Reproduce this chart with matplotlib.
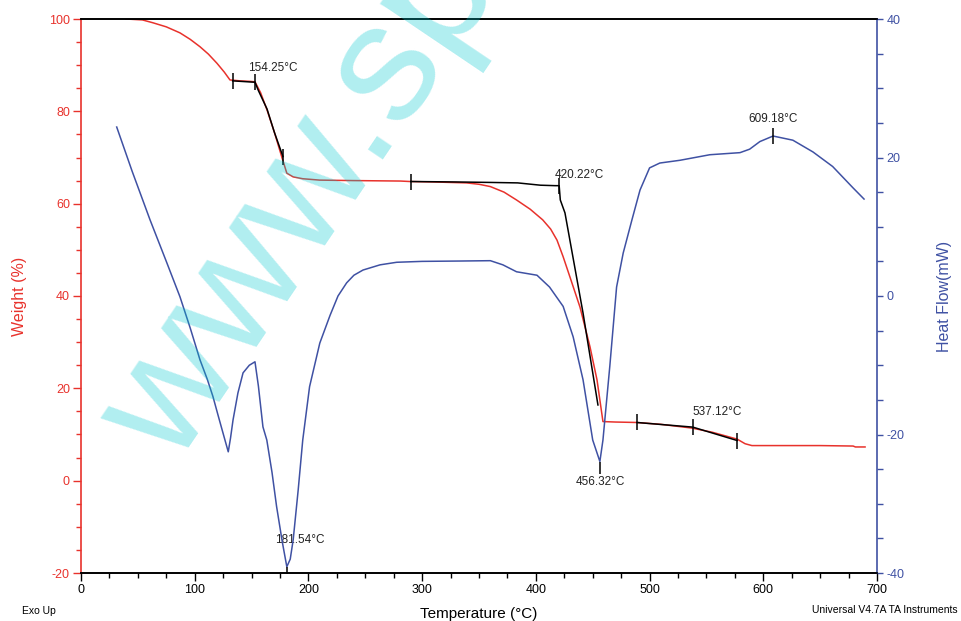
import matplotlib
matplotlib.use("Agg")
import matplotlib.pyplot as plt
from matplotlib.ticker import MultipleLocator

plt.rcParams["font.family"] = ["Liberation Sans", "DejaVu Sans"]
plt.rcParams["axes.unicode_minus"] = False

RED = "#e8322c"
BLUE = "#3f51a3"

# TGA weight curve (% vs degC)
weight_temp = [39.6, 54, 63, 75, 87, 96, 104.6, 112, 119.6, 126, 131, 140, 148,
               153, 158, 163.6, 170, 176.7, 181, 186.6, 195, 210, 240, 281, 289,
               310, 339, 350, 360, 372, 383, 395, 406, 413, 418.6, 424, 430,
               438.8, 447.6, 453.8, 459, 470, 489, 510, 537, 555, 577, 584, 590,
               620, 650, 679, 681, 689.5]
weight_pct = [100, 99.8, 99.2, 98.3, 97, 95.6, 94, 92.4, 90.4, 88.5, 86.8, 86.6,
              86.5, 86.4, 84, 80.3, 75.5, 70, 66.6, 65.8, 65.4, 65.1, 65, 64.9,
              64.8, 64.7, 64.5, 64.2, 63.7, 62.5, 60.8, 58.8, 56.5, 54.5, 52.1,
              48.5, 44.1, 37.6, 29, 21.8, 12.8, 12.7, 12.6, 12.2, 11.4, 10.5, 9.0,
              8.0, 7.6, 7.6, 7.6, 7.5, 7.3, 7.3]

# DSC heat flow curve (mW vs degC)
hf_temp = [31.4, 45, 60.7, 75, 87, 96, 104.6, 111, 116, 121, 126.6, 129.5, 131.5,
           133.7, 138, 142.5, 148, 153, 156, 160, 163.4, 168, 172, 177, 181, 184,
           186.6, 191, 195, 201, 210, 219, 226, 233.6, 240, 248, 263, 277.6, 300,
           333, 360, 371, 383, 401, 412, 424, 432.8, 441.5, 450, 456.3, 459, 465,
           471, 476.8, 484.5, 491.6, 500, 509, 526.8, 553, 579.5, 588, 597, 608.6,
           626, 643.7, 661, 679, 688.6]
hf_mw = [24.4, 18, 11, 5, -0.1, -4.6, -9.2, -12, -14.5, -17.5, -20.8, -22.5, -20.5,
         -17.9, -14, -11.1, -10, -9.5, -13, -18.9, -20.8, -25.5, -30.4, -35.5,
         -39.1, -38, -35.2, -28, -20.8, -13.1, -6.8, -2.8, 0, 1.9, 3, 3.75, 4.5,
         4.87, 5.0, 5.05, 5.1, 4.5, 3.5, 3.0, 1.3, -1.5, -5.9, -12.1, -20.8, -23.9,
         -20.8, -10.2, 1.3, 6.2, 11, 15.3, 18.5, 19.2, 19.6, 20.4, 20.7, 21.2,
         22.3, 23.1, 22.5, 20.8, 18.7, 15.6, 14]

# step analysis construction lines (weight axis)
step1_temp = [133.4, 153, 156, 163.6, 170, 177.6]
step1_wt = [86.6, 86.3, 84.5, 80.5, 75.5, 70.2]
step1_ticks = [133.4, 153, 177.6]

step2_temp = [290, 330, 360, 384, 404, 417, 420.5, 421.5, 425.6, 441.5, 454.6]
step2_wt = [64.8, 64.7, 64.6, 64.5, 64.0, 63.9, 63.9, 60.8, 58.0, 36.3, 16.4]
step2_ticks = [290, 420.5]

step3_temp = [489, 538, 577]
step3_wt = [12.6, 11.6, 8.7]

# labelled points: (text, temp, weight-axis y, ha)
annotations = [
    ("154.25°C", 146.9, 89.4, "left"),
    ("420.22°C", 416.8, 66.2, "left"),
    ("609.18°C", 608.6, 78.3, "center"),
    ("181.54°C", 170.6, -12.8, "left"),
    ("456.32°C", 457.0, -0.3, "center"),
    ("537.12°C", 537.3, 14.9, "left"),
]
peak_temp = [181.5, 456.3]
peak_mw = [-39.1, -23.9]
top_temp = [608.6]
top_mw = [23.1]

fig = plt.figure(figsize=(9.61, 6.21), dpi=100)
ax = fig.add_axes([81 / 961, 1 - 573 / 621, 796 / 961, 554 / 621])
ax2 = ax.twinx()

ax.plot(weight_temp, weight_pct, color=RED, lw=1.1, zorder=2)
ax.plot(step1_temp, step1_wt, color="black", lw=1.1, zorder=3)
ax.plot(step2_temp, step2_wt, color="black", lw=1.1, zorder=3)
ax.plot(step3_temp, step3_wt, color="black", lw=1.1, zorder=3)

for temps, xs, ys in [(step1_ticks, step1_temp, step1_wt),
                      (step2_ticks, step2_temp, step2_wt),
                      (step3_temp, step3_temp, step3_wt)]:
    for t in temps:
        y = ys[xs.index(t)]
        ax.plot([t], [y], marker="|", ms=11, mew=1.1, color="black", zorder=4)

ax2.plot(hf_temp, hf_mw, color=BLUE, lw=1.1, zorder=2)
ax2.plot(peak_temp, [m - 0.9 for m in peak_mw], ls="none", marker="|", ms=8,
         mew=1.1, color="black")
ax2.plot(top_temp, top_mw, ls="none", marker="|", ms=11, mew=1.1, color="black")

for text, t, y, ha in annotations:
    ax.text(t, y, text, ha=ha, va="center", fontsize=8.5, color="#222222",
            zorder=5)

ax.set_xlim(0, 700)
ax.set_ylim(-20, 100)
ax2.set_ylim(-40, 40)

ax.xaxis.set_major_locator(MultipleLocator(100))
ax.xaxis.set_minor_locator(MultipleLocator(25))
ax.yaxis.set_major_locator(MultipleLocator(20))
ax.yaxis.set_minor_locator(MultipleLocator(5))
ax2.yaxis.set_major_locator(MultipleLocator(20))
ax2.yaxis.set_minor_locator(MultipleLocator(5))

ax.tick_params(axis="x", which="major", length=6, width=1, labelsize=9, pad=2)
ax.tick_params(axis="x", which="minor", length=3.5, width=1)
ax.tick_params(axis="y", which="major", length=6, width=1, color=RED,
               labelcolor=RED, labelsize=9, pad=2)
ax.tick_params(axis="y", which="minor", length=3.5, width=1, color=RED)
ax2.tick_params(axis="y", which="both", length=4, width=1, color=BLUE,
                labelcolor=BLUE, labelsize=9, pad=3)

ax.spines["left"].set_color(RED)
ax.spines["right"].set_visible(False)
ax2.spines["left"].set_visible(False)
ax2.spines["right"].set_color(BLUE)
for a in (ax, ax2):
    for s in a.spines.values():
        s.set_linewidth(1.2)

ax.set_xlabel("Temperature (°C)", fontsize=11, labelpad=8)
ax.set_ylabel("Weight (%)", fontsize=11.5, color=RED, labelpad=16)
ax2.set_ylabel("Heat Flow(mW)", fontsize=11.5, color=BLUE, labelpad=23)

fig.text(22 / 961, 1 - 611 / 621, "Exo Up", fontsize=7.5, va="center")
fig.text(958 / 961, 1 - 610 / 621, "Universal V4.7A TA Instruments",
         fontsize=7.5, va="center", ha="right")

# site watermark over the chart
fig.text(175 / 961, 1 - 468 / 621, "www.sp", fontsize=122, rotation=56,
         rotation_mode="anchor", ha="left", va="baseline", color="#00c8d0",
         alpha=0.31, zorder=10)

fig.savefig("out.png", dpi=100)
